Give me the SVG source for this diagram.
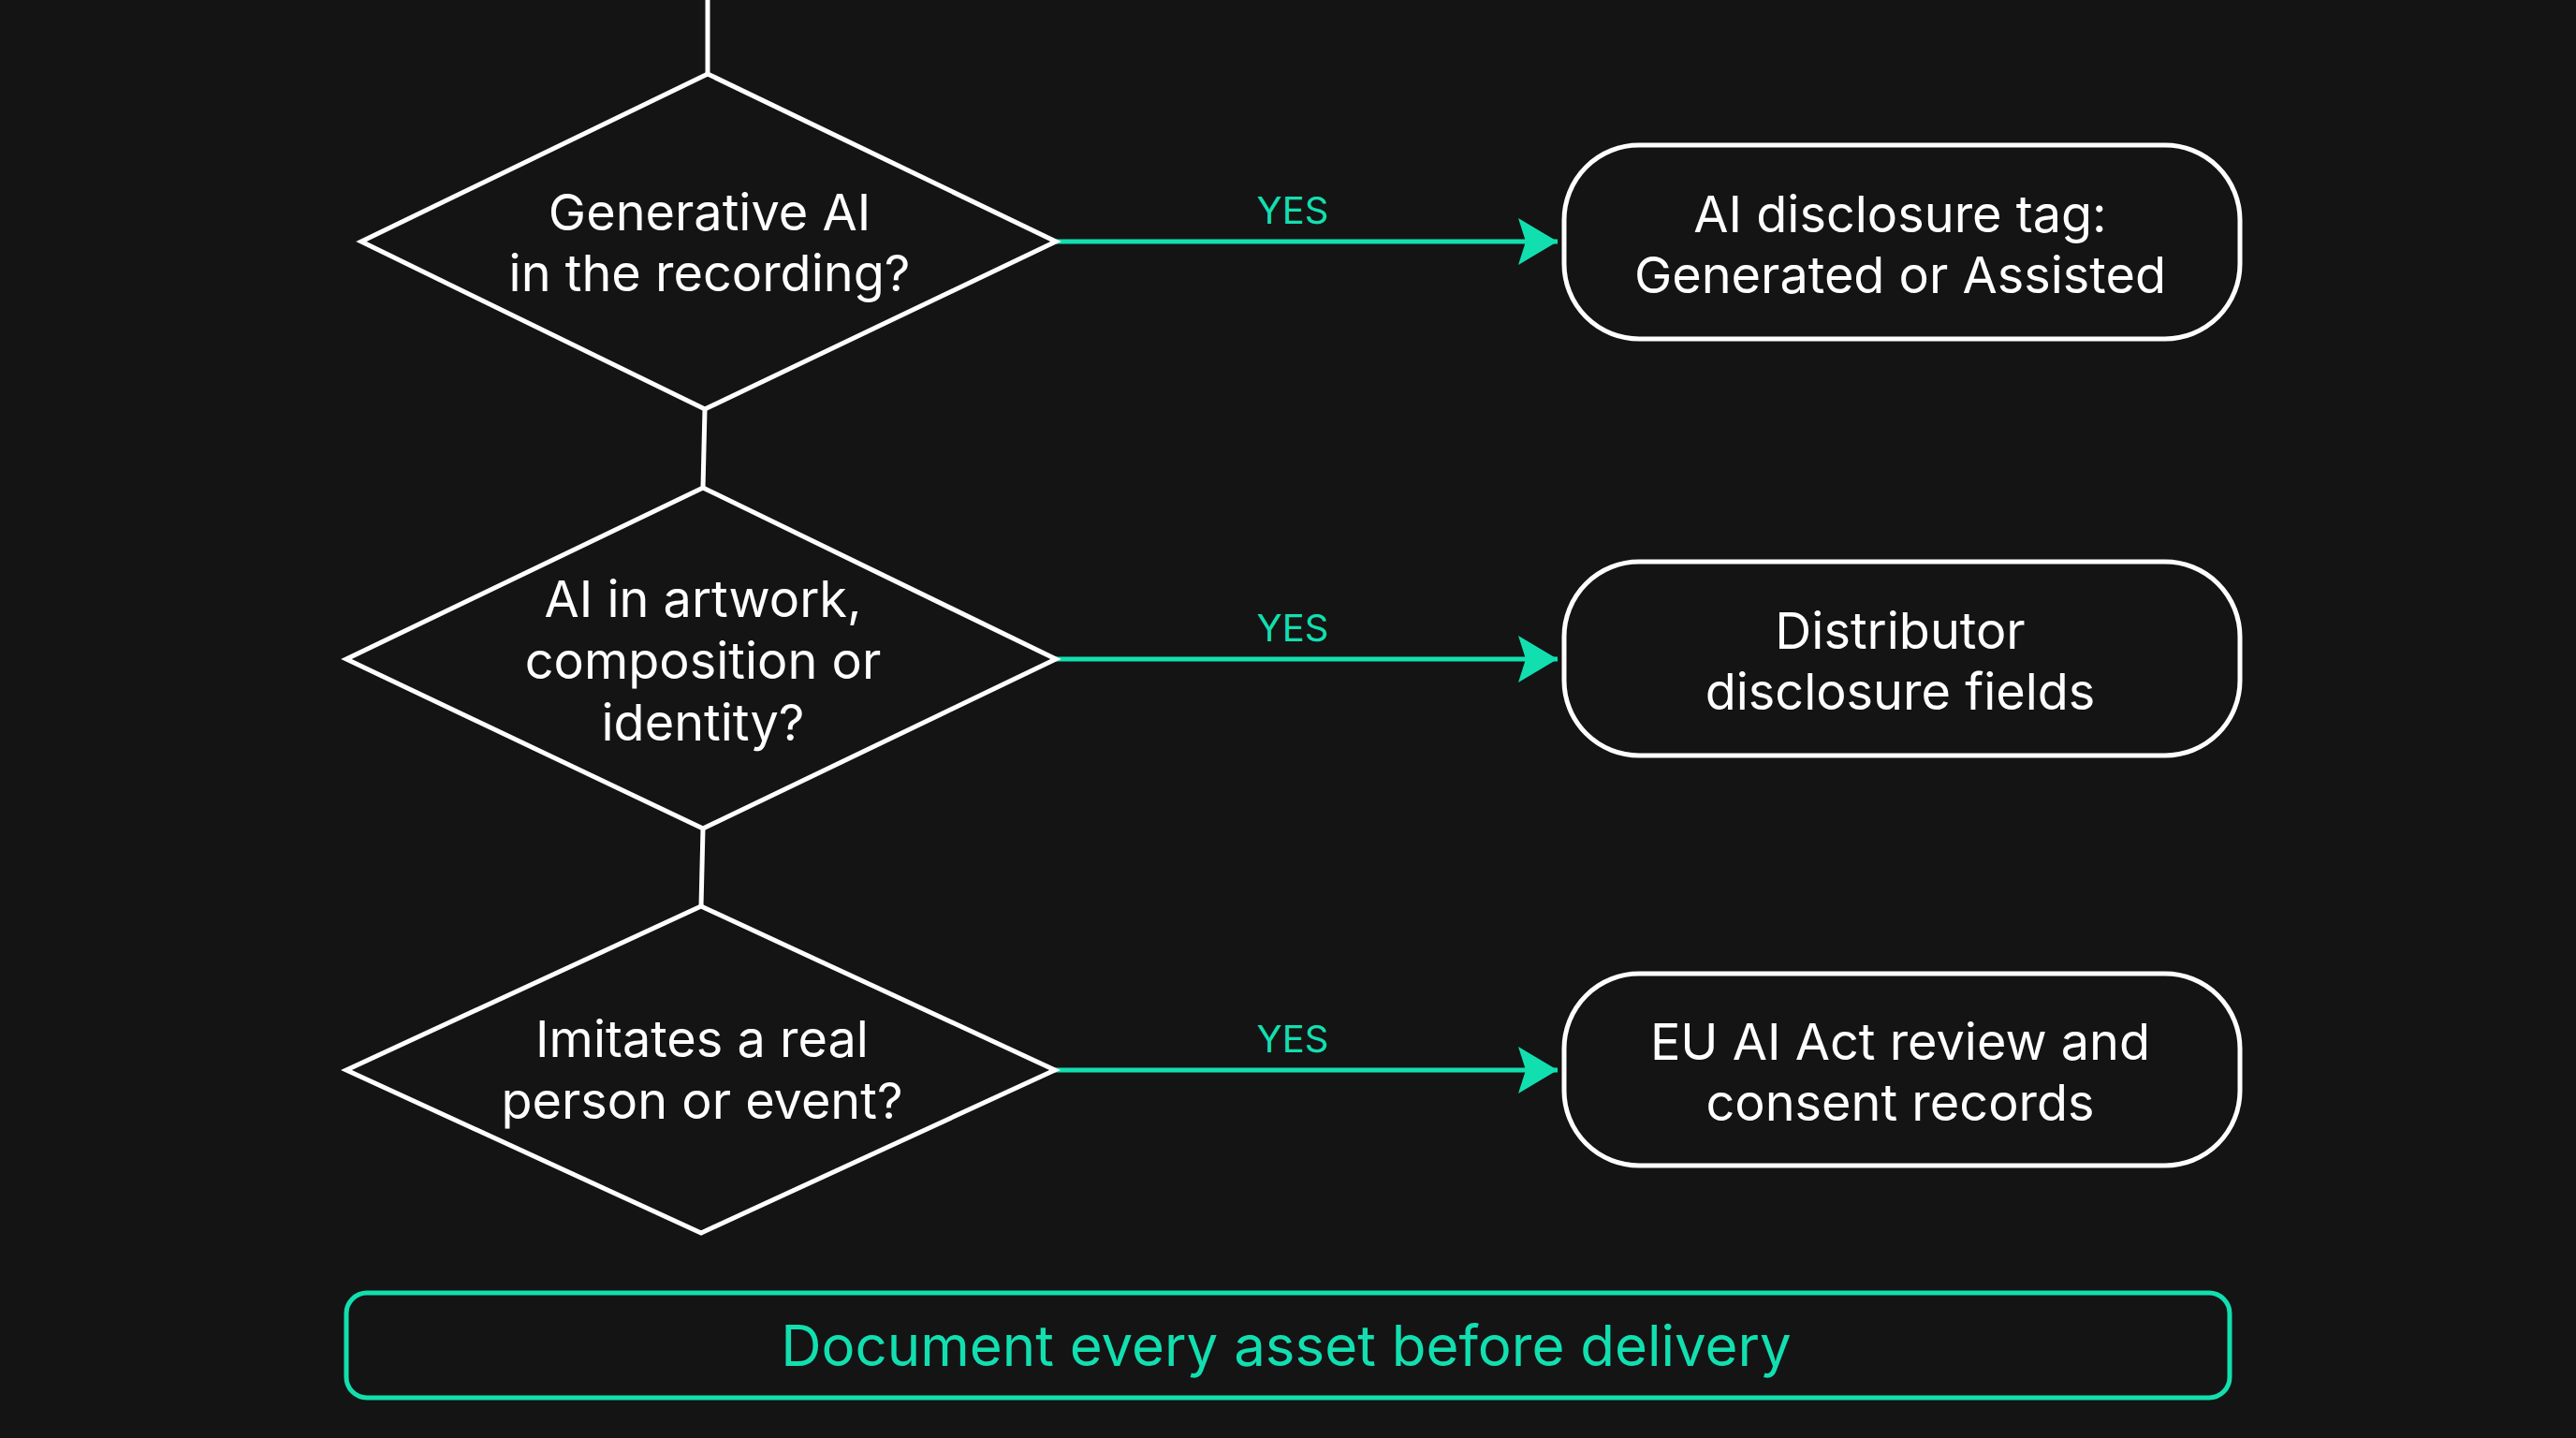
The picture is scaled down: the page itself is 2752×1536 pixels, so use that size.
<svg xmlns="http://www.w3.org/2000/svg" width="2752" height="1536" viewBox="0 0 2752 1536">
<defs>
<style>
.bg{fill:#141414}
.dia{fill:#141414;stroke:#ffffff;stroke-width:5;stroke-linejoin:miter}
.box{fill:#141414;stroke:#ffffff;stroke-width:5}
.flow{fill:none;stroke:#ffffff;stroke-width:5}
.yes{fill:none;stroke:#12DFB0;stroke-width:5}
.lbl{fill:#ffffff;font-family:Inter,"Noto Sans",sans-serif;font-size:54px;text-anchor:middle}
.blbl{fill:#ffffff;font-family:Inter,"Noto Sans",sans-serif;font-size:54px;text-anchor:middle}
.ytxt{fill:#12DFB0;font-family:Inter,"Noto Sans",sans-serif;font-size:40px;text-anchor:middle}
.foot{fill:#141414;stroke:#12DFB0;stroke-width:5}
.ftxt{fill:#12DFB0;font-family:Inter,"Noto Sans",sans-serif;font-size:60px;text-anchor:middle}
</style>
<marker id="ah" viewBox="0 0 42 50" refX="42" refY="25" markerWidth="42" markerHeight="50" markerUnits="userSpaceOnUse" orient="auto">
<path d="M0,0 L42,25 L0,50 L8,25 Z" fill="#12DFB0"/>
</marker>
</defs>
<rect class="bg" x="0" y="0" width="2752" height="1536"/>
<g id="connectors">
<line class="flow" x1="756" y1="0" x2="756" y2="79"/>
<line class="flow" x1="753" y1="437" x2="751" y2="521"/>
<line class="flow" x1="751" y1="885" x2="749" y2="968"/>
<line class="yes" x1="1128" y1="258" x2="1664" y2="258" marker-end="url(#ah)"/>
<text class="ytxt" x="1381" y="239">YES</text>
<line class="yes" x1="1128" y1="704" x2="1664" y2="704" marker-end="url(#ah)"/>
<text class="ytxt" x="1381" y="685">YES</text>
<line class="yes" x1="1127" y1="1143" x2="1664" y2="1143" marker-end="url(#ah)"/>
<text class="ytxt" x="1381" y="1124">YES</text>
</g>
<g id="q1">
<polygon class="dia" points="756,79 1128,258 753,437 386,258"/>
<text class="lbl" x="758" y="246">Generative AI</text>
<text class="lbl" x="758" y="311">in the recording?</text>
</g>
<g id="q2">
<polygon class="dia" points="751,521 1128,704 751,885 370,704"/>
<text class="lbl" x="751" y="659">AI in artwork,</text>
<text class="lbl" x="751" y="725">composition or</text>
<text class="lbl" x="751" y="791">identity?</text>
</g>
<g id="q3">
<polygon class="dia" points="749,968 1127,1143 749,1317 370,1143"/>
<text class="lbl" x="750" y="1129">Imitates a real</text>
<text class="lbl" x="750" y="1195">person or event?</text>
</g>
<g id="r1">
<rect class="box" x="1671" y="155" width="722" height="207" rx="80" ry="80"/>
<text class="blbl" x="2030" y="248">AI disclosure tag:</text>
<text class="blbl" x="2030" y="313">Generated or Assisted</text>
</g>
<g id="r2">
<rect class="box" x="1671" y="600" width="722" height="207" rx="80" ry="80"/>
<text class="blbl" x="2030" y="693">Distributor</text>
<text class="blbl" x="2030" y="758">disclosure fields</text>
</g>
<g id="r3">
<rect class="box" x="1671" y="1040" width="722" height="205" rx="80" ry="80"/>
<text class="blbl" x="2030" y="1132">EU AI Act review and</text>
<text class="blbl" x="2030" y="1197">consent records</text>
</g>
<g id="footer">
<rect class="foot" x="370" y="1381" width="2012" height="112" rx="22" ry="22"/>
<text class="ftxt" x="1374" y="1459">Document every asset before delivery</text>
</g>
</svg>
